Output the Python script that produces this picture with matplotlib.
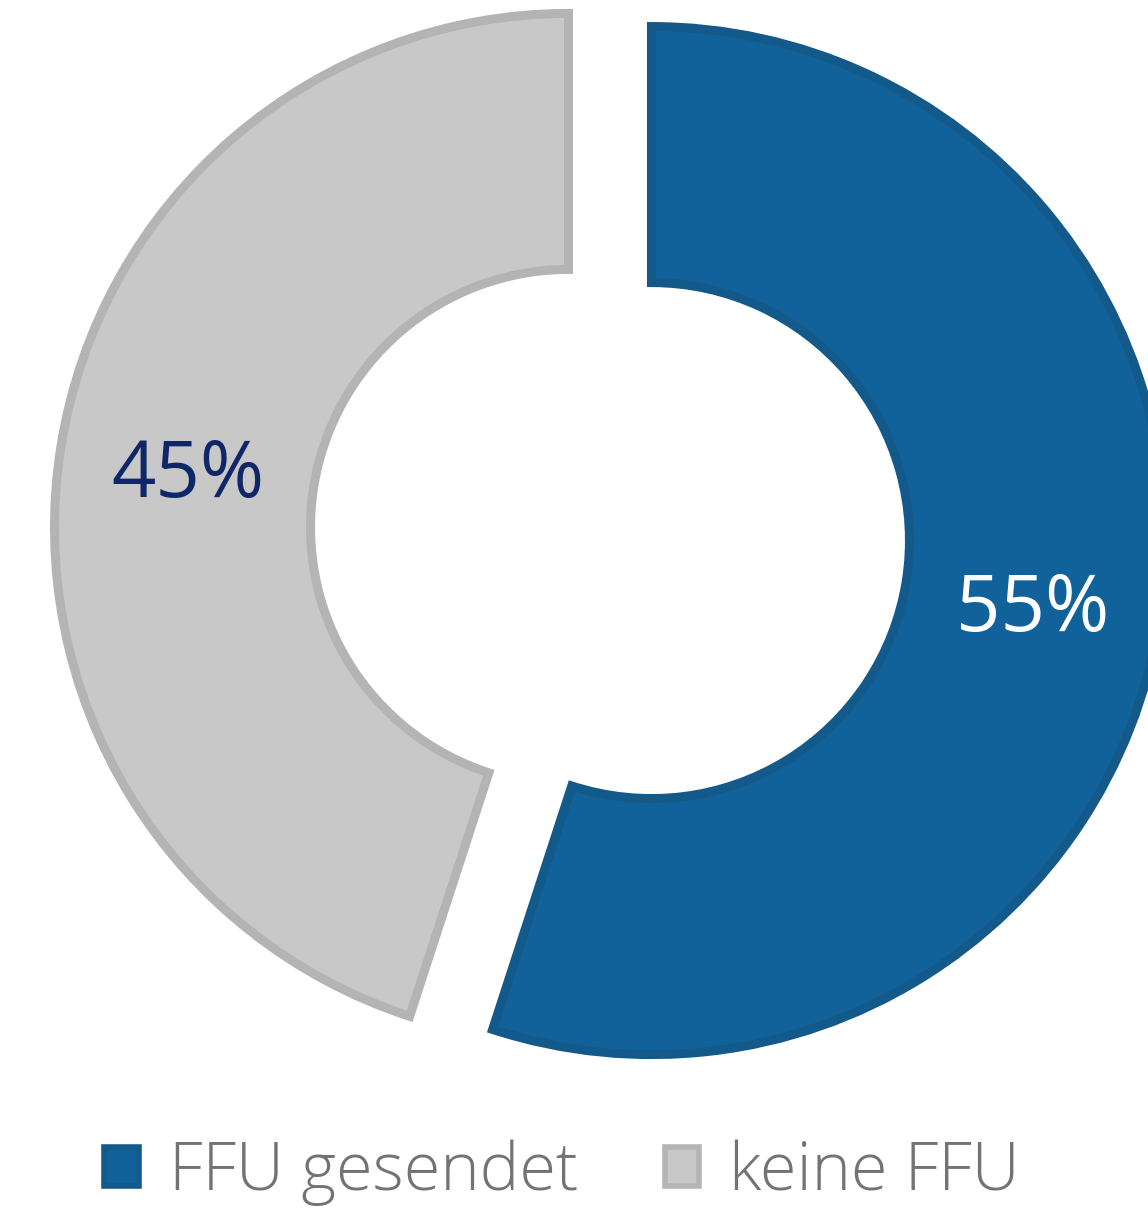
import matplotlib
matplotlib.use("Agg")
import matplotlib.pyplot as plt

categories = ["FFU gesendet", "keine FFU"]
values = [55, 45]
labels_pct = ["55%", "45%"]

fill_colors = ["#11629a", "#c8c8c8"]
edge_colors = ["#135a8a", "#b4b4b4"]
text_colors = ["#ffffff", "#0f2766"]

W, H = 1148, 1208
fig = plt.figure(figsize=(W / 100, H / 100), dpi=100)
ax = fig.add_axes([0, 0, 1, 1])

R = 514
wedges, texts = ax.pie(
    values,
    colors=fill_colors,
    startangle=90,
    counterclock=False,
    radius=R,
    center=(610, 674),
    explode=[42, 42],
    labels=labels_pct,
    labeldistance=0.75,
    wedgeprops=dict(width=256, linewidth=6.5),
    frame=True,
)
ax.set_xlim(0, W)
ax.set_ylim(0, H)
ax.set_aspect("equal")
ax.axis("off")
for w, ec in zip(wedges, edge_colors):
    w.set_edgecolor(ec)
for t, c in zip(texts, text_colors):
    t.set_color(c)
    t.set_fontsize(56)
    t.set_fontfamily("Open Sans")
    t.set_ha("center")
    t.set_va("center_baseline")

leg = ax.legend(
    wedges, categories,
    loc="center", bbox_to_anchor=(562 / W, 1 - 1173 / H),
    ncol=2, frameon=False,
    prop={"family": "Open Sans", "size": 48, "weight": "light"},
    handlelength=0.52, handleheight=0.52, handletextpad=0.45,
    columnspacing=1.3, borderpad=0, borderaxespad=0,
)
for t in leg.get_texts():
    t.set_color("#737373")
for h in leg.legend_handles:
    h.set_linewidth(4)

fig.savefig("out.png", dpi=100)
